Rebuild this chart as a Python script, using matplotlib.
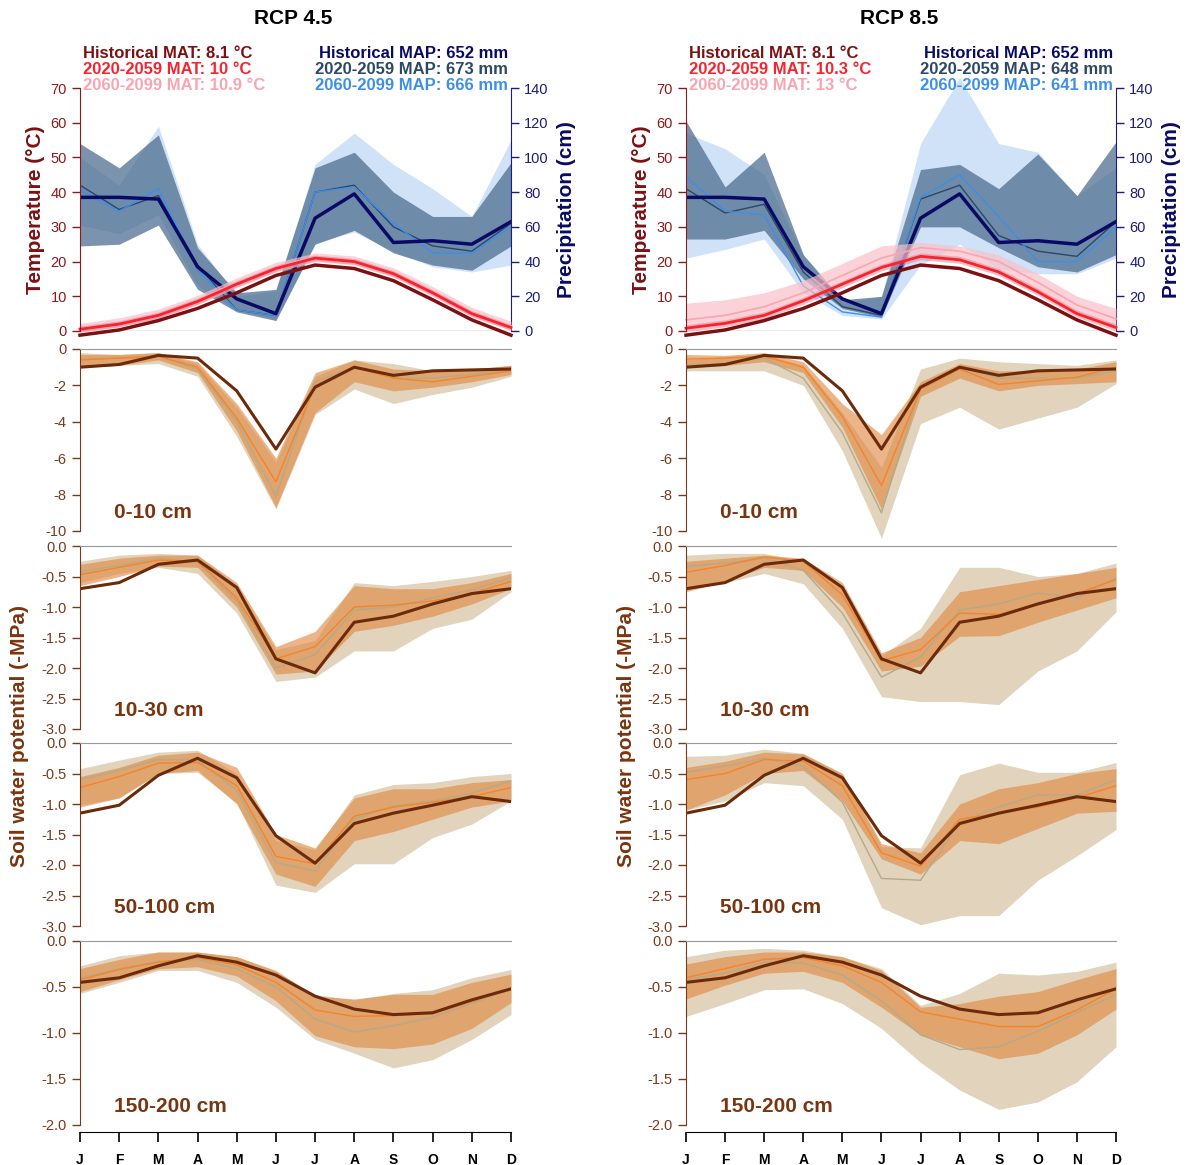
import matplotlib
matplotlib.use("Agg")
import matplotlib.pyplot as plt

plt.rcParams['font.family'] = ['Liberation Sans', 'DejaVu Sans']

months = ['J', 'F', 'M', 'A', 'M', 'J', 'J', 'A', 'S', 'O', 'N', 'D']
scenarios = ['RCP 4.5', 'RCP 8.5']
depth_labels = ['0-10 cm', '10-30 cm', '50-100 cm', '150-200 cm']

mat_text = {'RCP 4.5': ['Historical MAT: 8.1 °C', '2020-2059 MAT: 10 °C', '2060-2099 MAT: 10.9 °C'],
            'RCP 8.5': ['Historical MAT: 8.1 °C', '2020-2059 MAT: 10.3 °C', '2060-2099 MAT: 13 °C']}
map_text = {'RCP 4.5': ['Historical MAP: 652 mm', '2020-2059 MAP: 673 mm', '2060-2099 MAP: 666 mm'],
            'RCP 8.5': ['Historical MAP: 652 mm', '2020-2059 MAP: 648 mm', '2060-2099 MAP: 641 mm']}

# ---- temperature (deg C) ----
temp_hist = [-1.2, 0.3, 3.0, 6.5, 11.0, 16.0, 19.0, 18.0, 14.5, 9.0, 3.2, -1.2]
temp_45_mid = [0.5, 2.0, 4.5, 8.5, 13.5, 18.0, 21.0, 20.0, 16.5, 11.0, 5.0, 1.0]
temp_45_mid_lo = [-0.3, 1.2, 3.7, 7.7, 12.7, 17.2, 20.2, 19.2, 15.7, 10.2, 4.2, 0.2]
temp_45_mid_hi = [1.3, 2.8, 5.3, 9.3, 14.3, 18.8, 21.8, 20.8, 17.3, 11.8, 5.8, 1.8]
temp_45_end = [1.0, 2.5, 5.0, 9.0, 14.0, 18.5, 21.5, 20.5, 17.0, 11.5, 5.5, 1.5]
temp_45_end_lo = [-0.3, 1.2, 3.6, 7.6, 12.5, 17.0, 20.0, 19.0, 15.5, 10.0, 4.0, 0.2]
temp_45_end_hi = [2.2, 3.8, 6.3, 10.3, 15.3, 19.8, 22.5, 21.6, 18.2, 12.8, 6.8, 2.8]
temp_85_mid = [0.8, 2.2, 4.5, 8.7, 13.5, 18.3, 21.5, 20.5, 17.0, 11.3, 5.0, 1.0]
temp_85_mid_lo = [-0.2, 1.2, 3.5, 7.7, 12.5, 17.3, 20.5, 19.5, 16.0, 10.3, 4.0, 0.0]
temp_85_mid_hi = [1.8, 3.2, 5.5, 9.7, 14.5, 19.3, 22.5, 21.5, 18.0, 12.3, 6.0, 2.0]
temp_85_end = [3.2, 4.5, 7.0, 11.0, 16.0, 21.0, 24.0, 23.0, 20.0, 14.0, 7.5, 3.5]
temp_85_end_lo = [0.8, 2.0, 4.5, 8.5, 13.5, 18.5, 21.5, 20.5, 17.5, 11.5, 5.0, 1.0]
temp_85_end_hi = [8.0, 9.0, 11.0, 14.5, 19.5, 24.5, 25.5, 24.5, 22.0, 16.5, 10.0, 6.5]

# ---- precipitation (cm) ----
precip_hist = [77, 77, 76, 37, 18.5, 10, 65, 79, 51, 52, 50, 63]
precip_45_mid = [84, 70, 78, 38, 12, 9, 80, 84, 60, 49, 46, 62]
precip_45_mid_lo = [49, 50, 61, 24, 11, 6, 50, 58, 45, 38, 35, 49]
precip_45_mid_hi = [108, 94, 113, 48, 22, 24, 94, 103, 80, 66, 66, 97]
precip_45_end = [81, 69, 82, 35, 12, 9, 80, 83, 62, 45, 45, 60]
precip_45_end_lo = [61, 56, 67, 26, 12, 7, 51, 57, 46, 37, 34, 38]
precip_45_end_hi = [100, 84, 118, 50, 20, 23, 96, 114, 96, 82, 66, 110]
precip_85_mid = [82, 68, 73, 34, 14, 9, 76, 84, 55, 46, 43, 63]
precip_85_mid_lo = [53, 53, 58, 30, 13, 8, 60, 60, 48, 37, 34, 44]
precip_85_mid_hi = [121, 83, 103, 44, 18, 20, 93, 96, 82, 102, 78, 109]
precip_85_end = [89, 69, 67, 26, 11, 8, 77, 90, 66, 40, 40, 60]
precip_85_end_lo = [42, 47, 53, 22, 9, 7, 38, 50, 36, 33, 33, 42]
precip_85_end_hi = [114, 105, 90, 44, 16, 20, 108, 146, 108, 103, 78, 94]

# ---- soil water potential, 0-10 cm ----
swp1_hist = [-1.0, -0.85, -0.35, -0.5, -2.3, -5.5, -2.1, -1.0, -1.45, -1.2, -1.15, -1.1]
swp1_45_mid = [-0.6, -0.5, -0.4, -1.0, -3.8, -7.3, -2.0, -1.0, -1.6, -1.8, -1.5, -1.2]
swp1_45_mid_lo = [-1.0, -0.9, -0.6, -1.3, -4.5, -8.7, -3.5, -1.8, -2.3, -2.1, -1.8, -1.4]
swp1_45_mid_hi = [-0.3, -0.3, -0.2, -0.7, -3.0, -6.0, -1.3, -0.6, -1.1, -1.2, -1.1, -0.9]
swp1_45_end = [-0.55, -0.5, -0.4, -1.1, -4.0, -8.1, -1.8, -1.0, -1.6, -1.6, -1.4, -1.1]
swp1_45_end_lo = [-1.0, -0.9, -0.8, -1.5, -4.8, -8.8, -3.6, -2.2, -3.0, -2.5, -2.1, -1.5]
swp1_45_end_hi = [-0.2, -0.3, -0.2, -0.8, -3.2, -6.2, -1.5, -0.6, -0.8, -1.2, -1.1, -0.9]
swp1_85_mid = [-0.55, -0.5, -0.4, -1.0, -3.7, -7.5, -2.2, -1.1, -1.95, -1.75, -1.55, -1.0]
swp1_85_mid_lo = [-1.0, -0.9, -0.7, -1.3, -4.3, -8.8, -2.6, -1.6, -2.3, -2.0, -1.9, -1.8]
swp1_85_mid_hi = [-0.3, -0.35, -0.2, -0.7, -3.0, -4.7, -1.8, -0.8, -1.2, -1.2, -1.1, -0.7]
swp1_85_end = [-0.9, -0.8, -0.5, -1.6, -4.6, -9.0, -2.1, -1.0, -1.6, -1.6, -1.6, -1.2]
swp1_85_end_lo = [-1.2, -1.2, -1.2, -2.0, -5.6, -10.4, -4.1, -3.2, -4.4, -3.8, -3.2, -1.9]
swp1_85_end_hi = [-0.6, -0.4, -0.3, -0.9, -3.5, -6.5, -1.1, -0.5, -0.7, -0.8, -0.9, -0.6]

# ---- 10-30 cm ----
swp2_hist = [-0.7, -0.6, -0.3, -0.23, -0.68, -1.85, -2.08, -1.25, -1.15, -0.95, -0.78, -0.7]
swp2_45_mid = [-0.47, -0.35, -0.23, -0.25, -0.85, -1.85, -1.65, -1.0, -0.97, -0.9, -0.78, -0.58]
swp2_45_mid_lo = [-0.65, -0.5, -0.33, -0.35, -1.0, -2.1, -2.05, -1.4, -1.3, -1.15, -0.95, -0.7]
swp2_45_mid_hi = [-0.3, -0.2, -0.15, -0.15, -0.6, -1.65, -1.4, -0.65, -0.7, -0.7, -0.6, -0.45]
swp2_45_end = [-0.42, -0.32, -0.2, -0.27, -0.9, -2.0, -1.78, -1.05, -1.0, -0.85, -0.72, -0.52]
swp2_45_end_lo = [-0.6, -0.45, -0.35, -0.45, -1.1, -2.22, -2.15, -1.72, -1.72, -1.35, -1.2, -0.75]
swp2_45_end_hi = [-0.25, -0.15, -0.12, -0.15, -0.65, -1.7, -1.55, -0.6, -0.65, -0.58, -0.5, -0.4]
swp2_85_mid = [-0.43, -0.32, -0.18, -0.25, -0.8, -1.88, -1.7, -1.1, -1.12, -0.95, -0.78, -0.55]
swp2_85_mid_lo = [-0.75, -0.58, -0.35, -0.4, -1.0, -2.05, -1.97, -1.48, -1.47, -1.25, -1.05, -0.85]
swp2_85_mid_hi = [-0.25, -0.2, -0.15, -0.2, -0.6, -1.75, -1.5, -0.75, -0.65, -0.55, -0.45, -0.35]
swp2_85_end = [-0.33, -0.28, -0.2, -0.4, -1.1, -2.15, -1.82, -1.05, -0.95, -0.77, -0.85, -0.52]
swp2_85_end_lo = [-0.72, -0.6, -0.45, -0.62, -1.35, -2.47, -2.55, -2.55, -2.6, -2.05, -1.72, -1.08]
swp2_85_end_hi = [-0.15, -0.12, -0.12, -0.25, -0.7, -1.8, -1.35, -0.35, -0.35, -0.5, -0.45, -0.28]

# ---- 50-100 cm ----
swp3_hist = [-1.15, -1.02, -0.53, -0.25, -0.57, -1.52, -1.97, -1.32, -1.15, -1.02, -0.88, -0.96]
swp3_45_mid = [-0.73, -0.55, -0.33, -0.32, -0.7, -1.86, -1.98, -1.2, -1.05, -0.97, -0.88, -0.73]
swp3_45_mid_lo = [-1.05, -0.9, -0.5, -0.45, -1.0, -2.15, -2.35, -1.6, -1.45, -1.25, -1.05, -0.95]
swp3_45_mid_hi = [-0.55, -0.4, -0.2, -0.15, -0.4, -1.5, -1.72, -0.9, -0.75, -0.75, -0.65, -0.6]
swp3_45_end = [-0.6, -0.45, -0.27, -0.28, -0.78, -1.96, -2.1, -1.25, -1.03, -0.95, -0.82, -0.62]
swp3_45_end_lo = [-1.02, -0.9, -0.5, -0.48, -0.98, -2.33, -2.45, -1.98, -1.98, -1.55, -1.33, -0.95]
swp3_45_end_hi = [-0.42, -0.28, -0.15, -0.12, -0.5, -1.6, -1.75, -0.85, -0.68, -0.65, -0.55, -0.5]
swp3_85_mid = [-0.6, -0.5, -0.27, -0.3, -0.7, -1.8, -2.02, -1.25, -1.15, -1.05, -0.9, -0.7]
swp3_85_mid_lo = [-1.1, -0.85, -0.5, -0.45, -0.95, -1.9, -2.15, -1.6, -1.65, -1.4, -1.15, -1.12]
swp3_85_mid_hi = [-0.4, -0.3, -0.15, -0.18, -0.5, -1.65, -1.8, -1.0, -0.75, -0.65, -0.5, -0.42]
swp3_85_end = [-0.48, -0.38, -0.25, -0.38, -0.97, -2.22, -2.25, -1.3, -1.05, -0.85, -0.85, -0.6]
swp3_85_end_lo = [-1.1, -0.95, -0.65, -0.7, -1.25, -2.7, -2.98, -2.83, -2.83, -2.25, -1.85, -1.42]
swp3_85_end_hi = [-0.22, -0.2, -0.1, -0.17, -0.5, -1.7, -1.72, -0.52, -0.33, -0.48, -0.48, -0.32]

# ---- 150-200 cm ----
swp4_hist = [-0.45, -0.4, -0.27, -0.16, -0.23, -0.37, -0.6, -0.74, -0.8, -0.78, -0.64, -0.52]
swp4_45_mid = [-0.42, -0.31, -0.23, -0.18, -0.26, -0.45, -0.75, -0.82, -0.81, -0.79, -0.66, -0.52]
swp4_45_mid_lo = [-0.55, -0.42, -0.3, -0.28, -0.38, -0.65, -1.03, -1.15, -1.17, -1.12, -0.95, -0.67]
swp4_45_mid_hi = [-0.3, -0.2, -0.12, -0.12, -0.17, -0.32, -0.6, -0.63, -0.58, -0.58, -0.45, -0.36]
swp4_45_end = [-0.4, -0.3, -0.22, -0.2, -0.3, -0.5, -0.85, -0.99, -0.92, -0.83, -0.68, -0.52]
swp4_45_end_lo = [-0.57, -0.45, -0.32, -0.32, -0.45, -0.72, -1.07, -1.22, -1.38, -1.29, -1.07, -0.8]
swp4_45_end_hi = [-0.27, -0.16, -0.12, -0.12, -0.17, -0.33, -0.58, -0.64, -0.57, -0.53, -0.4, -0.31]
swp4_85_mid = [-0.4, -0.3, -0.2, -0.18, -0.27, -0.45, -0.77, -0.85, -0.93, -0.93, -0.75, -0.52]
swp4_85_mid_lo = [-0.63, -0.48, -0.35, -0.33, -0.45, -0.72, -1.02, -1.15, -1.28, -1.22, -1.02, -0.74]
swp4_85_mid_hi = [-0.25, -0.17, -0.12, -0.12, -0.17, -0.32, -0.72, -0.68, -0.6, -0.55, -0.42, -0.3]
swp4_85_end = [-0.42, -0.35, -0.23, -0.24, -0.37, -0.65, -1.02, -1.18, -1.15, -0.98, -0.78, -0.58]
swp4_85_end_lo = [-0.82, -0.68, -0.53, -0.52, -0.68, -0.95, -1.32, -1.62, -1.83, -1.75, -1.53, -1.15]
swp4_85_end_hi = [-0.17, -0.1, -0.08, -0.1, -0.17, -0.3, -0.7, -0.57, -0.35, -0.37, -0.33, -0.23]

temp_series = {
    'RCP 4.5': (temp_45_mid, temp_45_mid_lo, temp_45_mid_hi, temp_45_end, temp_45_end_lo, temp_45_end_hi),
    'RCP 8.5': (temp_85_mid, temp_85_mid_lo, temp_85_mid_hi, temp_85_end, temp_85_end_lo, temp_85_end_hi),
}
precip_series = {
    'RCP 4.5': (precip_45_mid, precip_45_mid_lo, precip_45_mid_hi, precip_45_end, precip_45_end_lo, precip_45_end_hi),
    'RCP 8.5': (precip_85_mid, precip_85_mid_lo, precip_85_mid_hi, precip_85_end, precip_85_end_lo, precip_85_end_hi),
}
soil_hist = [swp1_hist, swp2_hist, swp3_hist, swp4_hist]
soil_series = {
    'RCP 4.5': [
        (swp1_45_mid, swp1_45_mid_lo, swp1_45_mid_hi, swp1_45_end, swp1_45_end_lo, swp1_45_end_hi),
        (swp2_45_mid, swp2_45_mid_lo, swp2_45_mid_hi, swp2_45_end, swp2_45_end_lo, swp2_45_end_hi),
        (swp3_45_mid, swp3_45_mid_lo, swp3_45_mid_hi, swp3_45_end, swp3_45_end_lo, swp3_45_end_hi),
        (swp4_45_mid, swp4_45_mid_lo, swp4_45_mid_hi, swp4_45_end, swp4_45_end_lo, swp4_45_end_hi)],
    'RCP 8.5': [
        (swp1_85_mid, swp1_85_mid_lo, swp1_85_mid_hi, swp1_85_end, swp1_85_end_lo, swp1_85_end_hi),
        (swp2_85_mid, swp2_85_mid_lo, swp2_85_mid_hi, swp2_85_end, swp2_85_end_lo, swp2_85_end_hi),
        (swp3_85_mid, swp3_85_mid_lo, swp3_85_mid_hi, swp3_85_end, swp3_85_end_lo, swp3_85_end_hi),
        (swp4_85_mid, swp4_85_mid_lo, swp4_85_mid_hi, swp4_85_end, swp4_85_end_lo, swp4_85_end_hi)],
}
soil_ylim = [(-10, 0), (-3, 0), (-3, 0), (-2, 0)]
soil_ticks = [[0, -2, -4, -6, -8, -10],
              [0, -0.5, -1, -1.5, -2, -2.5, -3],
              [0, -0.5, -1, -1.5, -2, -2.5, -3],
              [0, -0.5, -1, -1.5, -2]]

# colours
c_thist, c_tmid, c_tend = '#7b1113', '#f5242f', '#f9a5b1'
c_tmid_band, c_tend_band = '#f27a86', '#f9c0c8'
c_phist, c_pmid, c_pend = '#0a0a66', '#2c4866', '#3d8fe8'
c_pmid_band, c_pend_band = '#45668a', '#cfe2f8'
c_shist, c_smid, c_send = '#6b2a0a', '#f5842a', '#b3aa8c'
c_smid_band, c_send_band = '#e0853a', '#e2d3bc'
c_tempax, c_precax, c_soilax = '#8b1a1a', '#1c1c7a', '#7a3a1a'
c_grey = '#999999'

W, H = 1187, 1165
fig = plt.figure(figsize=(W / 100, H / 100), dpi=100)


def rect(x0, y0, x1, y1):
    return [x0 / W, 1 - y1 / H, (x1 - x0) / W, (y1 - y0) / H]


x = list(range(12))
col_x = [(80, 511), (686, 1116)]
soil_rows = [(349, 531), (546, 729), (743, 926), (941, 1125)]

for ci, sc in enumerate(scenarios):
    x0, x1 = col_x[ci]

    # ---------- climate panel ----------
    ax_t = fig.add_axes(rect(x0, 88, x1, 331))
    ax_p = ax_t.twinx()
    ax_t.set_zorder(ax_p.get_zorder() + 1)
    ax_t.patch.set_visible(False)

    p_mid, p_mid_lo, p_mid_hi, p_end, p_end_lo, p_end_hi = precip_series[sc]
    ax_p.fill_between(x, p_end_lo, p_end_hi, color=c_pend_band, lw=0, clip_on=False)
    ax_p.fill_between(x, p_mid_lo, p_mid_hi, color=c_pmid_band, alpha=0.7, lw=0, clip_on=False)
    ax_p.plot(x, p_mid, color=c_pmid, lw=1.0)
    ax_p.plot(x, p_end, color=c_pend, lw=1.0)
    ax_p.plot(x, precip_hist, color=c_phist, lw=2.5)
    ax_p.set_ylim(0, 140)
    ax_p.set_yticks(range(0, 141, 20))

    t_mid, t_mid_lo, t_mid_hi, t_end, t_end_lo, t_end_hi = temp_series[sc]
    ax_t.fill_between(x, t_end_lo, t_end_hi, color=c_tend_band, alpha=0.7, lw=0, clip_on=False)
    ax_t.fill_between(x, t_mid_lo, t_mid_hi, color=c_tmid_band, alpha=0.5, lw=0, clip_on=False)
    ax_t.plot(x, t_end, color=c_tend, lw=1.2, clip_on=False)
    ax_t.plot(x, t_mid, color=c_tmid, lw=2.0, clip_on=False)
    ax_t.plot(x, temp_hist, color=c_thist, lw=2.5, clip_on=False)
    ax_t.set_ylim(0, 70)
    ax_t.set_xlim(0, 11)
    ax_t.set_yticks(range(0, 71, 10))
    ax_t.set_xticks([])

    for a in (ax_t, ax_p):
        for s in a.spines.values():
            s.set_visible(False)
    ax_t.spines['left'].set_visible(True)
    ax_t.spines['left'].set_color(c_tempax)
    ax_t.tick_params(axis='y', colors=c_tempax, labelsize=10.5, length=6, width=1)
    ax_p.spines['right'].set_visible(True)
    ax_p.spines['right'].set_color(c_precax)
    ax_p.tick_params(axis='y', colors=c_precax, labelsize=10.5, length=6, width=1)
    ax_t.axhline(0, color=c_grey, lw=1, zorder=0)

    ax_t.set_ylabel('Temperature (°C)', color=c_thist, fontsize=15, fontweight='bold', labelpad=4)
    ax_p.set_ylabel('Precipitation (cm)', color=c_phist, fontsize=15, fontweight='bold', labelpad=6)

    # title and summary texts
    fig.text(((x0 + x1) / 2 - 2) / W, 1 - 18 / H, sc, ha='center', va='center',
             fontsize=15, fontweight='bold')
    for ri, (ttxt, tcol) in enumerate(zip(mat_text[sc], [c_thist, c_tmid, c_tend])):
        fig.text((x0 + 3) / W, 1 - (53 + 16.5 * ri) / H, ttxt, color=tcol, ha='left',
                 va='center', fontsize=12, fontweight='bold')
    for ri, (ptxt, pcol) in enumerate(zip(map_text[sc], [c_phist, c_pmid, c_pend])):
        fig.text((x1 - 3) / W, 1 - (53 + 16.5 * ri) / H, ptxt, color=pcol, ha='right',
                 va='center', fontsize=12, fontweight='bold')

    # ---------- soil panels ----------
    for di in range(4):
        r0, r1 = soil_rows[di]
        ax = fig.add_axes(rect(x0, r0, x1, r1))
        s_mid, s_mid_lo, s_mid_hi, s_end, s_end_lo, s_end_hi = soil_series[sc][di]
        ax.fill_between(x, s_end_lo, s_end_hi, color=c_send_band, lw=0, clip_on=False)
        ax.fill_between(x, s_mid_lo, s_mid_hi, color=c_smid_band, alpha=0.6, lw=0, clip_on=False)
        ax.plot(x, s_end, color=c_send, lw=1.0)
        ax.plot(x, s_mid, color=c_smid, lw=1.0)
        ax.plot(x, soil_hist[di], color=c_shist, lw=2.2)
        ax.set_xlim(0, 11)
        ax.set_ylim(*soil_ylim[di])
        ax.set_yticks(soil_ticks[di])
        if di == 0:
            ax.set_yticklabels(['%d' % v for v in soil_ticks[di]])
        else:
            ax.set_yticklabels(['%.1f' % v for v in soil_ticks[di]])
        ax.patch.set_visible(False)
        for s in ax.spines.values():
            s.set_visible(False)
        ax.spines['left'].set_visible(True)
        ax.spines['left'].set_color(c_soilax)
        ax.spines['top'].set_visible(True)
        ax.spines['top'].set_color(c_grey)
        ax.tick_params(axis='y', colors=c_soilax, labelsize=10.5, length=6, width=1)
        ax.text(0.08, 0.1, depth_labels[di], transform=ax.transAxes, color='#7a3510',
                fontsize=15, fontweight='bold', ha='left', va='center')
        if di == 3:
            ax.spines['bottom'].set_visible(True)
            ax.spines['bottom'].set_color('black')
            ax.spines['bottom'].set_position(('outward', 5))
            ax.set_xticks(x)
            ax.set_xticklabels(months, fontweight='bold', fontsize=10)
            ax.tick_params(axis='x', length=7, width=1.2, pad=8)
        else:
            ax.set_xticks([])

    fig.text((x0 - 60) / W, 1 - 736 / H, 'Soil water potential (-MPa)', rotation=90,
             color='#7a3510', fontsize=15, fontweight='bold', ha='center', va='center')

fig.savefig('out.png', dpi=100)
